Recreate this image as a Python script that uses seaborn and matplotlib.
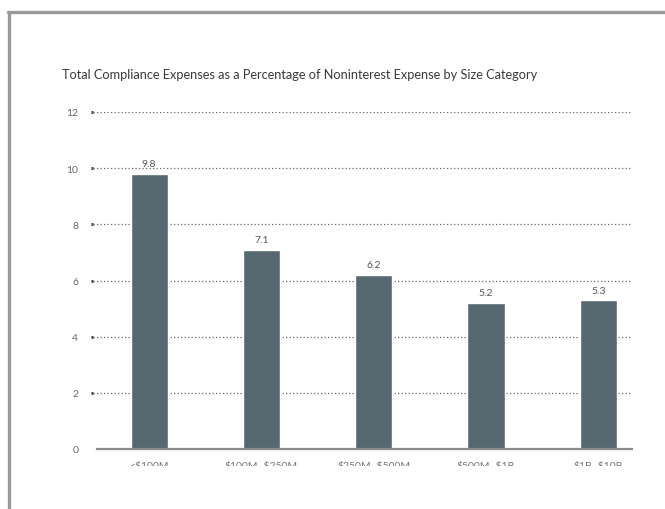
import matplotlib
matplotlib.use("Agg")
import matplotlib.pyplot as plt
import seaborn as sns
import pandas as pd
from matplotlib.patches import Rectangle
from matplotlib.lines import Line2D

categories = ["<$100M", "$100M\u2013$250M", "$250M\u2013$500M", "$500M\u2013$1B", "$1B\u2013$10B"]
values = [9.8, 7.1, 6.2, 5.2, 5.3]
yticks = [0, 2, 4, 6, 8, 10, 12]
title = "Total Compliance Expenses as a Percentage of Noninterest Expense by Size Category"

df = pd.DataFrame({"cat": categories, "val": values})

sns.set_theme(style="white")
plt.rcParams["font.family"] = ["Lato", "DejaVu Sans"]
plt.rcParams["text.parse_math"] = False

W, H = 665, 510
fig = plt.figure(figsize=(W / 100, H / 100), dpi=100)
ax = fig.add_axes([93 / W, 1 - 450 / H, 539 / W, (450 - 113) / H])

bar_color = "#566970"
sns.barplot(data=df, x="cat", y="val", color=bar_color, width=0.33,
            saturation=1, ax=ax, zorder=3)

ax.set_xlim(-0.5, 4.3)
ax.set_ylim(0, 12)
ax.set_yticks(yticks)
ax.set_xticks(range(len(categories)))
ax.set_xticklabels(categories)
ax.set_xlabel("")
ax.set_ylabel("")

for s in ["top", "right", "left"]:
    ax.spines[s].set_visible(False)
ax.spines["bottom"].set_color("#8a8a8a")
ax.spines["bottom"].set_linewidth(1.6)
ax.spines["bottom"].set_bounds(-0.46, 4.3)
ax.spines["bottom"].set_zorder(4)

# dotted grid
ax.yaxis.grid(True, linestyle=(0, (1, 1.8)), color="#666666", linewidth=0.9, zorder=0)
ax.set_axisbelow(True)
ax.get_ygridlines()[0].set_visible(False)

ax.tick_params(axis="y", which="major", left=True, length=1.6, width=2.2,
               color="#444444", pad=9, labelsize=7.5, labelcolor="#666666")
ax.yaxis.get_major_ticks()[0].tick1line.set_visible(False)
ax.tick_params(axis="x", bottom=False, labelbottom=True, pad=3, labelsize=7.5,
               labelcolor="#777777")

# bar value labels
for c in ax.containers:
    ax.bar_label(c, labels=[f"{v:.1f}" for v in values], padding=4,
                 fontsize=7.5, color="#555555")

fig.text(62 / W, 1 - 75 / H, title, fontsize=9.2, color="#3a3a3a",
         ha="left", va="center")

# the reference is cropped through the category labels
fig.add_artist(Rectangle((14 / W, 0), 1, 1 - 467 / H, transform=fig.transFigure,
                         facecolor="white", edgecolor="none", zorder=5))

# document frame border
fig.add_artist(Line2D([8 / W, 1], [1 - 13 / H, 1 - 13 / H], transform=fig.transFigure,
                      color="#9a9a9a", linewidth=2.4, zorder=6))
fig.add_artist(Line2D([9 / W, 9 / W], [0, 1 - 13 / H], transform=fig.transFigure,
                      color="#9a9a9a", linewidth=2.4, zorder=6))

fig.savefig("out.png", dpi=100)
